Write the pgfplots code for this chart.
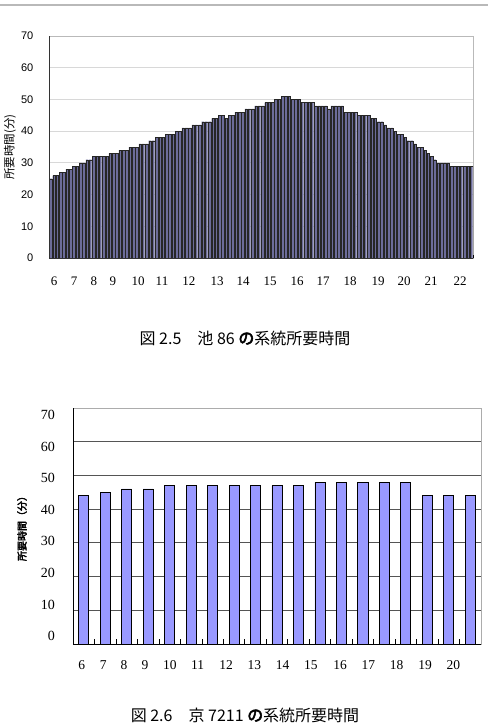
\documentclass[border=0pt]{standalone}
\usepackage{fontspec}
\setmainfont{Liberation Serif}
\newfontfamily\sans{Liberation Sans}
\newfontfamily\jp{Noto Sans CJK JP}[AutoFakeBold=3]
\usepackage{pgfplots}
\pgfplotsset{compat=1.18}
\definecolor{barA}{HTML}{6C6C99}
\definecolor{barB}{HTML}{9999FF}
\definecolor{gridA}{HTML}{D8D8D8}
\definecolor{gridB}{HTML}{555555}
\begin{document}
\begin{tikzpicture}
\useasboundingbox (0pt,0pt) rectangle (488pt,-725pt);
\draw[gray!55, line width=1.2pt] (0pt,-5pt) -- (488pt,-5pt);

\begin{axis}[
  at={(49pt,-258pt)}, anchor=south west,
  width=424pt, height=222pt, scale only axis,
  xmin=-0.5, xmax=127.5, ymin=0, ymax=70,
  /pgf/number format/assume math mode=true,
  ytick={0,10,...,70}, yticklabels={0,10,20,30,40,50,60,70},
  xtick={1.01,7.05,13.08,18.82,26.37,33.61,41.76,50.22,58.07,66.22,74.37,82.22,90.37,98.82,106.67,114.82,123.58},
  xticklabels={6,7,8,9,10,11,12,13,14,15,16,17,18,19,20,21,22},
  xtick pos=left, ytick pos=left,
  major tick length=0pt,
  extra x ticks={-0.5,0.5,...,127.5},
  extra x tick labels={},
  extra x tick style={major tick length=3pt, tick style={black, line width=0.6pt}},
  ymajorgrids, major grid style={gridA, line width=0.8pt},
  axis line style={draw=gray!55, line width=0.8pt},
  yticklabel style={font=\sans\fontsize{11}{12}\selectfont, anchor=east, inner sep=0pt, xshift=-15.5pt},
  xticklabel style={font=\fontsize{13}{15}\selectfont, anchor=center, yshift=-23pt},
  ylabel={所要時間(分)},
  ylabel style={font=\jp\fontsize{11.5}{13}\selectfont, at={(axis description cs:-0.092,0.5)}, anchor=center},
  after end axis/.code={\draw[black!80, line width=0.8pt] (rel axis cs:0,1) -- (rel axis cs:0,0) -- (rel axis cs:1,0);},
]
\addplot[ybar, bar width=0.78, fill=barA, draw=black!85, line width=0.25pt] coordinates {
(0,25)(1,26)(2,26)(3,27)(4,27)(5,28)(6,28)(7,29)(8,29)(9,30)
(10,30)(11,31)(12,31)(13,32)(14,32)(15,32)(16,32)(17,32)(18,33)(19,33)
(20,33)(21,34)(22,34)(23,34)(24,35)(25,35)(26,35)(27,36)(28,36)(29,36)
(30,37)(31,37)(32,38)(33,38)(34,38)(35,39)(36,39)(37,39)(38,40)(39,40)
(40,41)(41,41)(42,41)(43,42)(44,42)(45,42)(46,43)(47,43)(48,43)(49,44)
(50,44)(51,45)(52,45)(53,44)(54,45)(55,45)(56,46)(57,46)(58,46)(59,47)
(60,47)(61,47)(62,48)(63,48)(64,48)(65,49)(66,49)(67,49)(68,50)(69,50)
(70,51)(71,51)(72,51)(73,50)(74,50)(75,50)(76,49)(77,49)(78,49)(79,49)
(80,48)(81,48)(82,48)(83,48)(84,47)(85,48)(86,48)(87,48)(88,48)(89,46)
(90,46)(91,46)(92,46)(93,45)(94,45)(95,45)(96,45)(97,44)(98,44)(99,43)
(100,43)(101,42)(102,41)(103,41)(104,40)(105,39)(106,39)(107,38)(108,37)(109,37)
(110,36)(111,35)(112,35)(113,34)(114,33)(115,32)(116,31)(117,30)(118,30)(119,30)
(120,30)(121,29)(122,29)(123,29)(124,29)(125,29)(126,29)(127,29)
};
\end{axis}

\node[font=\jp\fontsize{16}{18}\selectfont] at (245pt,-338pt) {図 2.5　池 86 \textbf{の}系統所要時間};

\begin{axis}[
  at={(73pt,-644pt)}, anchor=south west,
  width=408pt, height=236pt, scale only axis,
  xmin=-0.5, xmax=18.5, ymin=0, ymax=70,
  /pgf/number format/assume math mode=true,
  ytick={2.37,11.74,21.10,30.47,39.83,49.20,58.57,67.93},
  yticklabels={0,10,20,30,40,50,60,70},
  xtick={-0.095,0.911,1.875,2.853,4.017,5.307,6.625,7.943,9.265,10.583,11.934,13.252,14.574,15.892,17.210},
  xticklabels={6,7,8,9,10,11,12,13,14,15,16,17,18,19,20},
  xtick pos=left, ytick pos=left,
  major tick length=0pt,
  extra y ticks={10,20,30,40,50,60},
  extra y tick labels={},
  extra y tick style={grid=major, major tick length=0pt},
  extra x ticks={0.5,1.5,...,17.5},
  extra x tick labels={},
  extra x tick style={major tick length=5pt, tick style={black, line width=0.6pt}},
  major grid style={gridB, line width=0.8pt},
  axis line style={draw=gray!65, line width=0.9pt},
  yticklabel style={font=\fontsize{14}{16}\selectfont, anchor=east, inner sep=0pt, xshift=-18pt},
  xticklabel style={font=\fontsize{13.5}{15}\selectfont, anchor=center, yshift=-21pt},
  ylabel={\textbf{所要時間（分）}},
  ylabel style={font=\jp\fontsize{10}{12}\selectfont, at={(axis description cs:-0.125,0.5)}, anchor=center},
  after end axis/.code={\draw[black, line width=0.9pt] (rel axis cs:0,1) -- (rel axis cs:0,0) -- (rel axis cs:1,0);},
]
\addplot[ybar, bar width=0.466, fill=barB, draw=black, line width=0.8pt] coordinates {
(0,44)(1,45)(2,46)(3,46)(4,47)(5,47)(6,47)(7,47)(8,47)(9,47)
(10,47)(11,48)(12,48)(13,48)(14,48)(15,48)(16,44)(17,44)(18,44)
};
\end{axis}

\node[font=\jp\fontsize{16}{18}\selectfont] at (245pt,-715pt) {図 2.6　京 7211 \textbf{の}系統所要時間};
\end{tikzpicture}
\end{document}
